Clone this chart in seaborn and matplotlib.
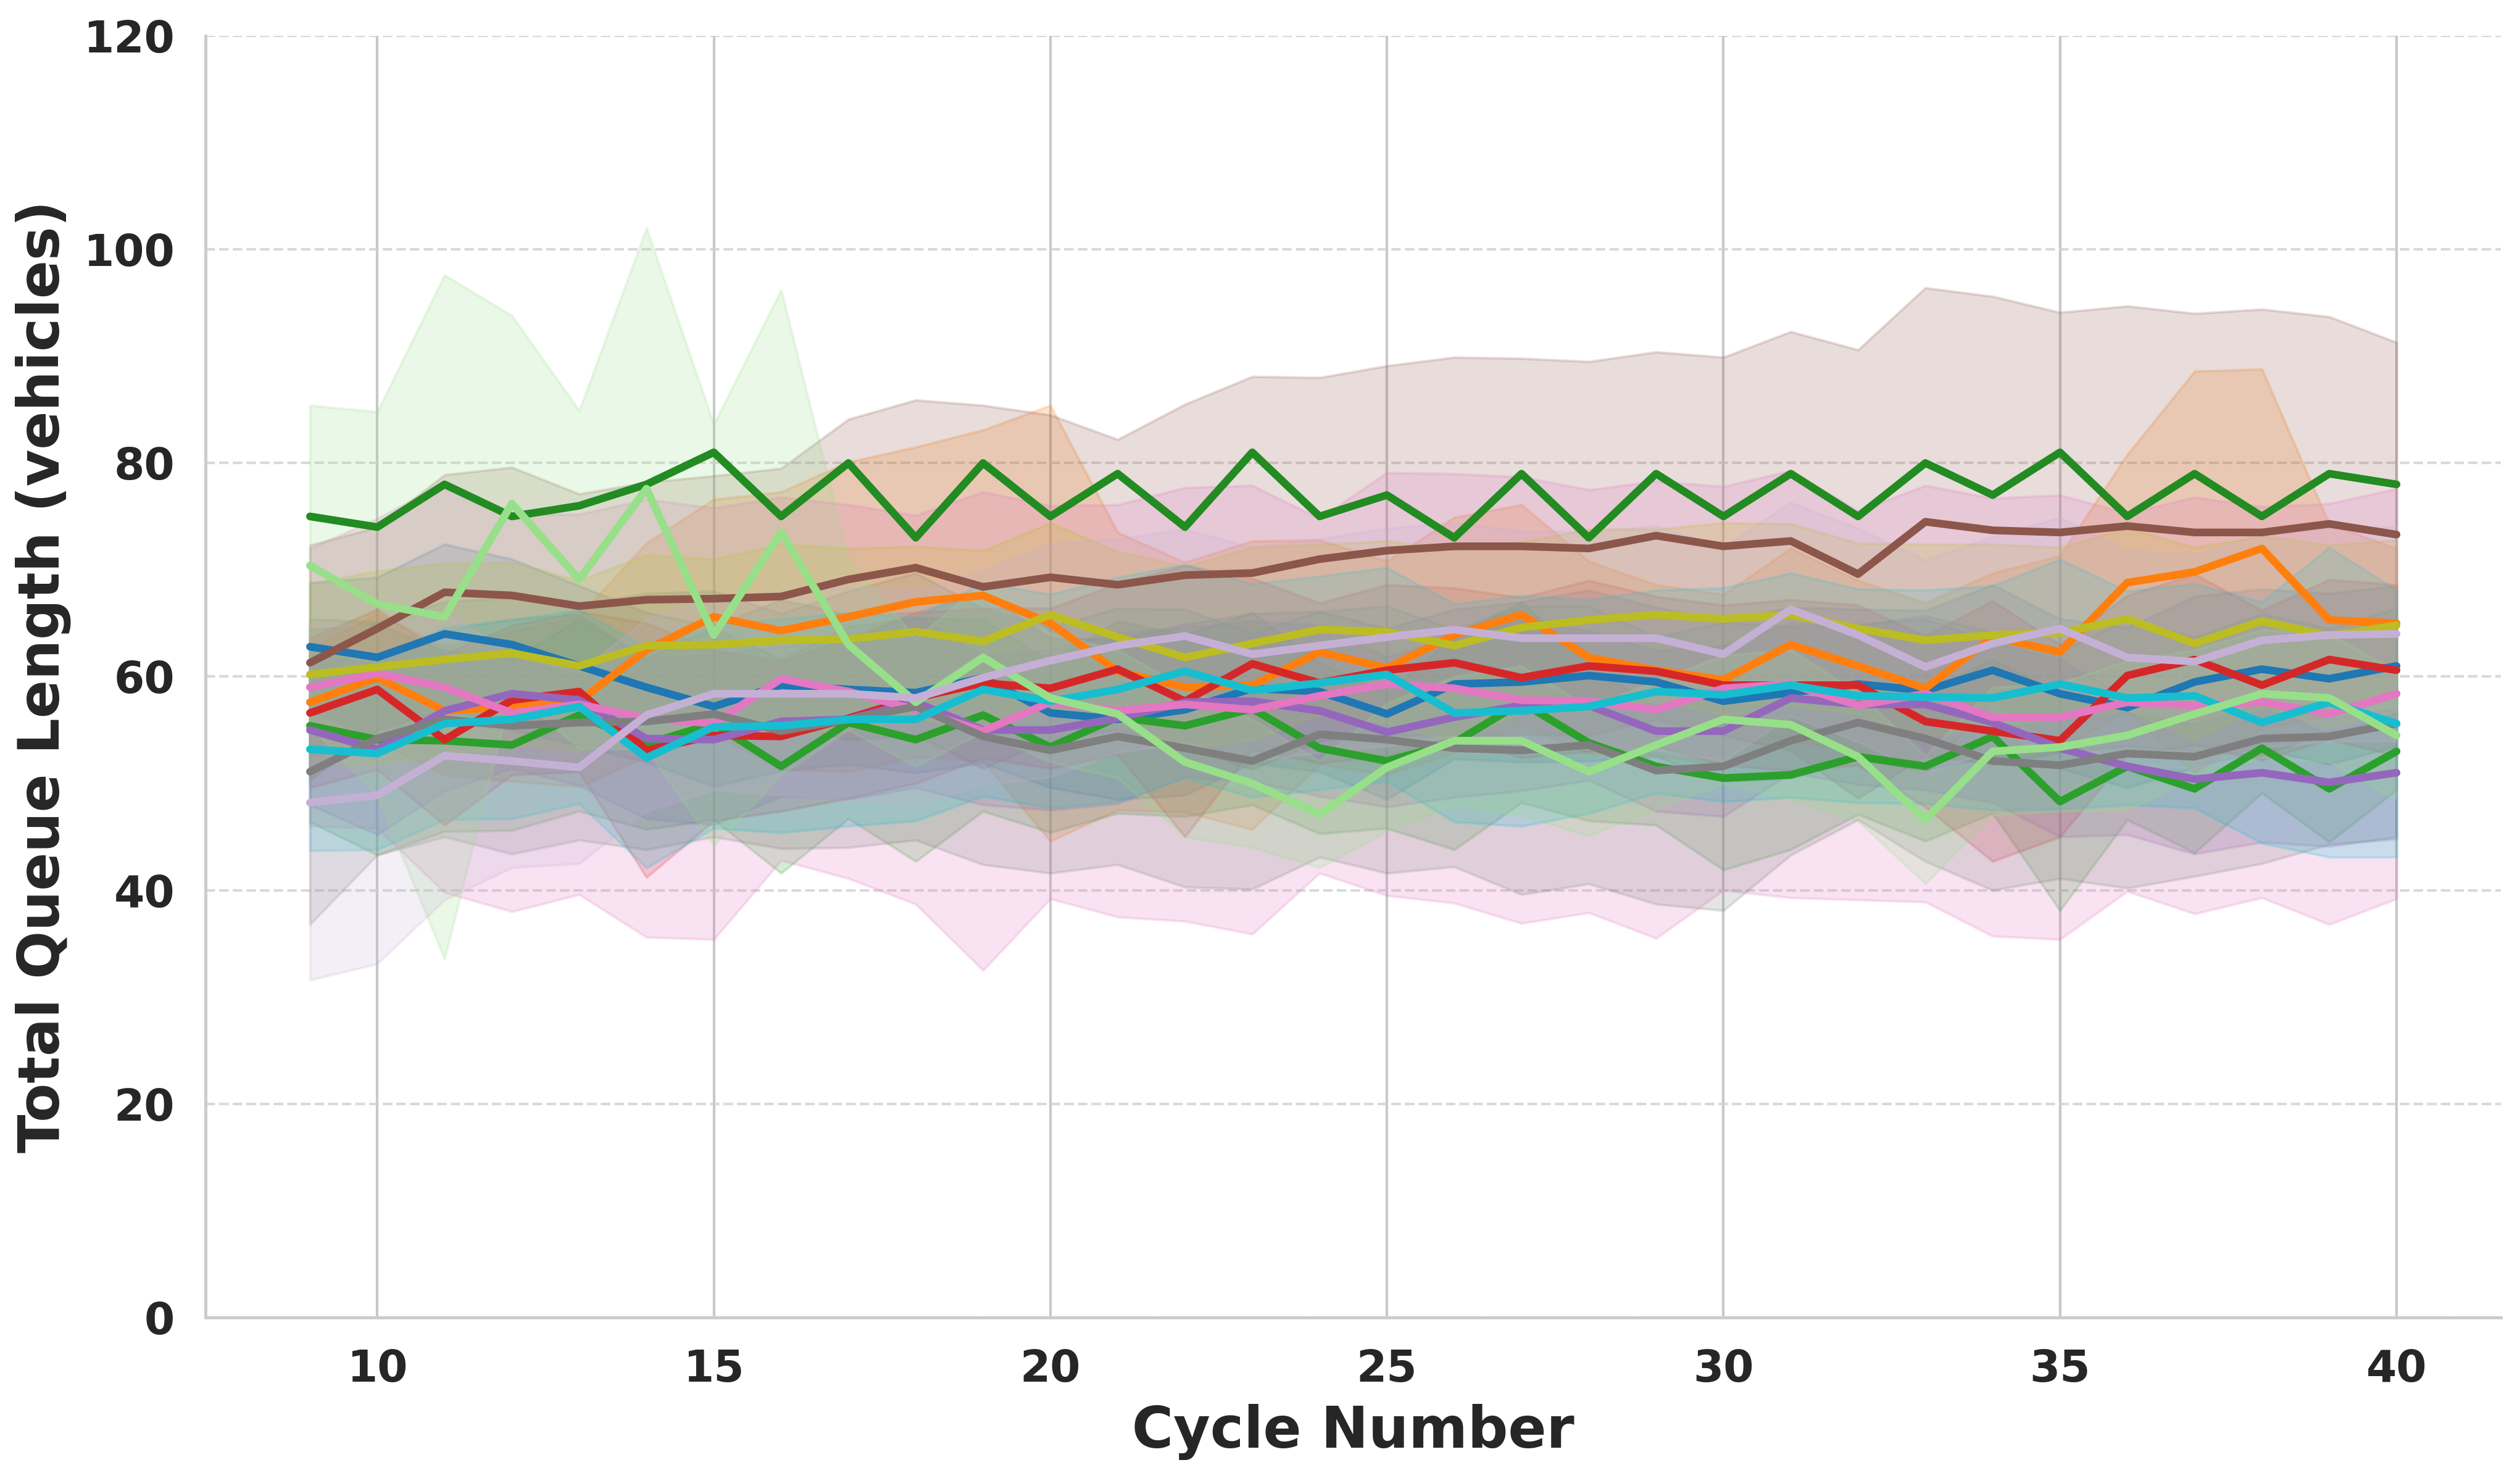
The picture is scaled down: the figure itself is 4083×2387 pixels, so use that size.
import numpy as np
import pandas as pd
import matplotlib
matplotlib.use("Agg")
import matplotlib.pyplot as plt
import seaborn as sns

# cycle numbers on the x axis
cycles = list(range(9, 41))

# mean total queue length per controller
blue = [62.8, 61.8, 64.0, 63.0, 61.0, 59.0, 57.2, 59.2, 58.8, 58.5, 59.9, 56.6, 56.0, 56.9, 58.9, 58.6,
        56.5, 59.3, 59.5, 60.1, 59.5, 57.7, 58.5, 59.3, 58.7, 60.6, 58.4, 57.1, 59.5, 60.7, 59.8, 61.0]
orange = [57.6, 59.9, 56.8, 57.2, 57.7, 62.5, 65.6, 64.3, 65.6, 67.0, 67.6, 65.0, 60.5, 59.0, 59.2, 62.3,
          60.8, 63.9, 65.8, 61.8, 60.6, 59.7, 63.0, 61.0, 58.9, 63.7, 62.3, 68.8, 69.8, 72.0, 65.3, 65.0]
green = [55.4, 54.1, 54.0, 53.6, 56.4, 53.7, 55.6, 51.6, 55.7, 54.1, 56.4, 53.4, 56.2, 55.4, 57.0, 53.3,
         52.1, 53.8, 57.6, 53.8, 51.6, 50.5, 50.8, 52.5, 51.6, 54.4, 48.3, 51.6, 49.5, 53.3, 49.5, 53.0]
red = [56.6, 58.8, 54.1, 57.8, 58.6, 53.1, 54.5, 54.4, 56.1, 58.0, 59.4, 58.9, 60.7, 57.7, 61.2, 59.4,
       60.6, 61.3, 59.9, 61.0, 60.5, 59.2, 59.2, 59.2, 55.8, 54.9, 54.0, 60.1, 61.6, 59.2, 61.6, 60.6]
purple = [55.0, 53.2, 56.8, 58.4, 57.8, 54.2, 54.1, 55.8, 56.0, 57.6, 55.0, 55.0, 56.1, 57.6, 57.7, 56.8,
          54.8, 56.2, 57.3, 57.3, 54.9, 54.9, 58.0, 57.4, 57.4, 55.7, 53.3, 51.6, 50.4, 51.0, 50.1, 51.0]
brown = [61.3, 64.5, 67.9, 67.6, 66.6, 67.2, 67.3, 67.5, 69.1, 70.2, 68.4, 69.3, 68.6, 69.5, 69.7, 71.0,
         71.8, 72.2, 72.2, 72.0, 73.2, 72.2, 72.7, 69.6, 74.5, 73.7, 73.5, 74.1, 73.5, 73.5, 74.3, 73.3]
pink = [59.0, 60.3, 59.0, 56.6, 57.4, 56.1, 55.6, 59.8, 58.6, 56.9, 54.9, 57.6, 56.8, 57.4, 56.9, 58.2,
        59.3, 58.9, 57.8, 57.7, 56.9, 58.9, 59.3, 57.3, 58.4, 56.2, 56.2, 57.6, 57.3, 57.6, 56.5, 58.4]
gray = [51.1, 54.2, 56.0, 55.4, 55.7, 55.8, 56.5, 54.9, 56.0, 57.2, 54.4, 53.1, 54.4, 53.3, 52.1, 54.6,
        54.1, 53.3, 53.1, 53.6, 51.2, 51.6, 54.0, 55.7, 54.2, 52.1, 51.7, 52.8, 52.5, 54.2, 54.4, 55.6]
olive = [60.2, 60.9, 61.6, 62.2, 61.0, 62.9, 63.0, 63.4, 63.5, 64.2, 63.3, 65.8, 63.7, 61.8, 63.1, 64.4,
         64.2, 62.9, 64.6, 65.3, 65.8, 65.4, 65.8, 64.5, 63.4, 63.9, 64.1, 65.4, 63.1, 65.2, 63.8, 64.8]
cyan = [53.2, 52.8, 55.6, 56.0, 57.2, 52.4, 55.3, 55.4, 56.0, 56.0, 58.8, 57.7, 58.8, 60.5, 58.7, 59.4,
        60.2, 56.6, 56.8, 57.2, 58.6, 58.3, 59.2, 58.2, 58.1, 58.0, 59.3, 58.0, 58.2, 55.7, 57.6, 55.6]
forest = [75, 74, 78, 75, 76, 78, 81, 75, 80, 73, 80, 75, 79, 74, 81, 75,
          77, 73, 79, 73, 79, 75, 79, 75, 80, 77, 81, 75, 79, 75, 79, 78]
lightgreen = [70.4, 66.8, 65.6, 76.2, 69.1, 77.6, 63.9, 73.5, 63.0, 57.6, 61.8, 58.0, 56.5, 52.0, 50.0, 47.1,
              51.5, 54.0, 54.0, 51.1, 53.6, 56.0, 55.5, 52.5, 46.6, 53.0, 53.4, 54.5, 56.5, 58.4, 58.0, 54.5]
lavender = [48.2, 48.9, 52.6, 52.1, 51.5, 56.4, 58.4, 58.4, 58.4, 58.0, 59.9, 61.5, 62.9, 63.8, 62.1, 62.9,
            63.7, 64.4, 63.6, 63.6, 63.6, 62.1, 66.3, 63.9, 60.9, 63.1, 64.5, 61.8, 61.4, 63.4, 63.9, 64.0]

# standard deviation (half width of the shaded band)
sd_blue = [6, 7.5, 8.4, 8, 7.5, 7, 7.5, 8, 7, 7.5, 8, 7, 7.5, 8, 7, 7.5,
           8, 7, 7.5, 8, 7, 7.5, 8, 7, 7.5, 8, 7, 7.5, 8, 7.5, 8, 7.5]
sd_orange = [5, 6, 6, 7, 8, 10, 11, 13, 14.5, 14.5, 15.5, 20.4, 13, 11.7, 13.5, 10.5,
             10, 11, 10.3, 9, 8, 8, 9, 8, 8, 6, 9, 12, 18.8, 16.8, 9, 7]
sd_green = [9, 10.8, 8.5, 8, 9, 8, 9, 10, 9, 11.4, 9, 8, 9, 8.5, 9, 8,
            6.3, 10, 9.4, 7.3, 5.5, 8.6, 7, 5.4, 7, 7.2, 10.2, 5, 6, 4.2, 5, 3.6]
sd_red = [7, 7.5, 8, 7, 7.5, 11.9, 8, 7, 7.5, 8, 7, 7.5, 8, 12.7, 8, 7.5,
          8, 7, 7.5, 8, 7, 7.5, 8, 7.5, 8, 12.2, 9, 7.5, 8, 7, 7.5, 8]
sd_purple = [7, 8, 7.5, 7, 8, 7.5, 8, 7, 7.5, 8, 7, 7.5, 8, 7, 7.5, 8,
             7, 7.5, 8, 7, 7.5, 8, 7, 7.5, 8, 7.5, 8.3, 6.4, 7, 6.5, 6, 6]
sd_brown = [11, 9.5, 11, 12, 10.5, 11, 11.5, 12, 15, 15.7, 17, 15.2, 13.6, 16, 18.4, 17,
            17.3, 17.7, 17.6, 17.5, 17.2, 17.7, 19.6, 21, 21.9, 21.9, 20.6, 20.6, 20.5, 20.9, 19.4, 18]
sd_pink = [13, 14.5, 19.2, 18.6, 17.8, 20.5, 20.2, 17, 17.5, 18.2, 22.4, 18.4, 19.3, 20.3, 21, 16.6,
           19.8, 20.1, 20.9, 19.8, 21.4, 18.9, 20, 18.2, 19.5, 20.5, 20.8, 17.7, 19.5, 18.3, 19.7, 19.2]
sd_gray = [14.3, 10.9, 11, 12, 11, 12, 11.5, 11, 12, 12.5, 12, 11.5, 12, 13, 12, 11.5,
           12.5, 11.1, 13.5, 13, 12.5, 13.5, 10.7, 9.1, 11.5, 12.1, 10.6, 12.6, 11.2, 11.7, 10.1, 10.8]
sd_olive = [8.5, 9, 9, 8.5, 8, 8.5, 8, 9, 8.5, 8, 8.5, 8.6, 8, 8.5, 9, 8,
            8.5, 9, 8, 8.5, 8, 9, 8.5, 8, 9, 8.5, 8, 8.5, 9, 8, 8.5, 8]
sd_cyan = [9.5, 9, 9, 9.3, 9.1, 10.3, 9.5, 10, 10, 9.5, 10, 10, 10.5, 10, 10, 10,
           10, 10.2, 10.8, 10, 9.5, 10, 10.5, 10, 10, 10.5, 11.7, 10, 10.5, 11.3, 14.5, 12.5]
sd_forest = [0, 0, 0, 0, 0, 0, 0, 0, 0, 0, 0, 0, 0, 0, 0, 0,
             0, 0, 0, 0, 0, 0, 0, 0, 0, 0, 0, 0, 0, 0, 0, 0]
sd_lightgreen = [15, 18, 32, 17.6, 15.8, 24.4, 19.7, 22.7, 8, 6, 7, 6, 6, 7, 6, 5,
                 6, 6, 7, 6, 6, 6, 7, 6, 6, 6, 6, 7, 6, 6, 6, 6]
sd_lavender = [16.6, 15.8, 13.5, 10, 9, 9, 9, 9.5, 10, 10, 10, 10.9, 10, 10, 10, 10,
               10.2, 10, 10, 10, 10.5, 10, 10, 10, 10, 10, 10.4, 10, 10, 10, 10, 10]

series = [
    (blue, sd_blue, "#1f77b4"),
    (orange, sd_orange, "#ff7f0e"),
    (green, sd_green, "#2ca02c"),
    (red, sd_red, "#d62728"),
    (purple, sd_purple, "#9467bd"),
    (brown, sd_brown, "#8c564b"),
    (pink, sd_pink, "#e377c2"),
    (gray, sd_gray, "#7f7f7f"),
    (olive, sd_olive, "#bcbd22"),
    (cyan, sd_cyan, "#17becf"),
    (forest, sd_forest, "#228b22"),
    (lightgreen, sd_lightgreen, "#98df8a"),
    (lavender, sd_lavender, "#c5b0d5"),
]

sns.set_theme(style="whitegrid")
plt.rcParams['font.family'] = ['DejaVu Sans']

fig = plt.figure(figsize=(4083 / 300, 2387 / 300), dpi=300)
ax = fig.add_axes([0.0816, 0.1056, 0.9108, 0.8701])

for mean, sd, color in series:
    m = np.array(mean, dtype=float)
    s = np.array(sd, dtype=float)
    sns.lineplot(x=cycles, y=m, color=color, linewidth=3.0, ax=ax)
    if s.max() > 0:
        ax.fill_between(cycles, m - s, m + s, color=color, alpha=0.2)

ax.set_ylim(0, 120)
ax.set_xlim(7.45, 41.55)
ax.set_yticks([0, 20, 40, 60, 80, 100, 120])
ax.set_xticks([10, 15, 20, 25, 30, 35, 40])

ax.set_xlabel('Cycle Number', fontsize=22, fontweight='bold', color='#262626', labelpad=5)
ax.set_ylabel('Total Queue Length (vehicles)', fontsize=22, fontweight='bold', color='#262626', labelpad=5)
ax.tick_params(axis='both', labelsize=17, colors='#262626', pad=6)
for lab in ax.get_xticklabels() + ax.get_yticklabels():
    lab.set_fontweight('bold')

ax.grid(axis='x', color='#c8c8c8', linewidth=1.0, linestyle='-')
ax.grid(axis='y', color='#d0d0d0', linewidth=1.0, linestyle='--', alpha=0.8)
sns.despine(ax=ax)
ax.spines['left'].set_color('#cccccc')
ax.spines['bottom'].set_color('#cccccc')
ax.spines['left'].set_linewidth(1.2)
ax.spines['bottom'].set_linewidth(1.2)

fig.savefig('out.png', dpi=300)
